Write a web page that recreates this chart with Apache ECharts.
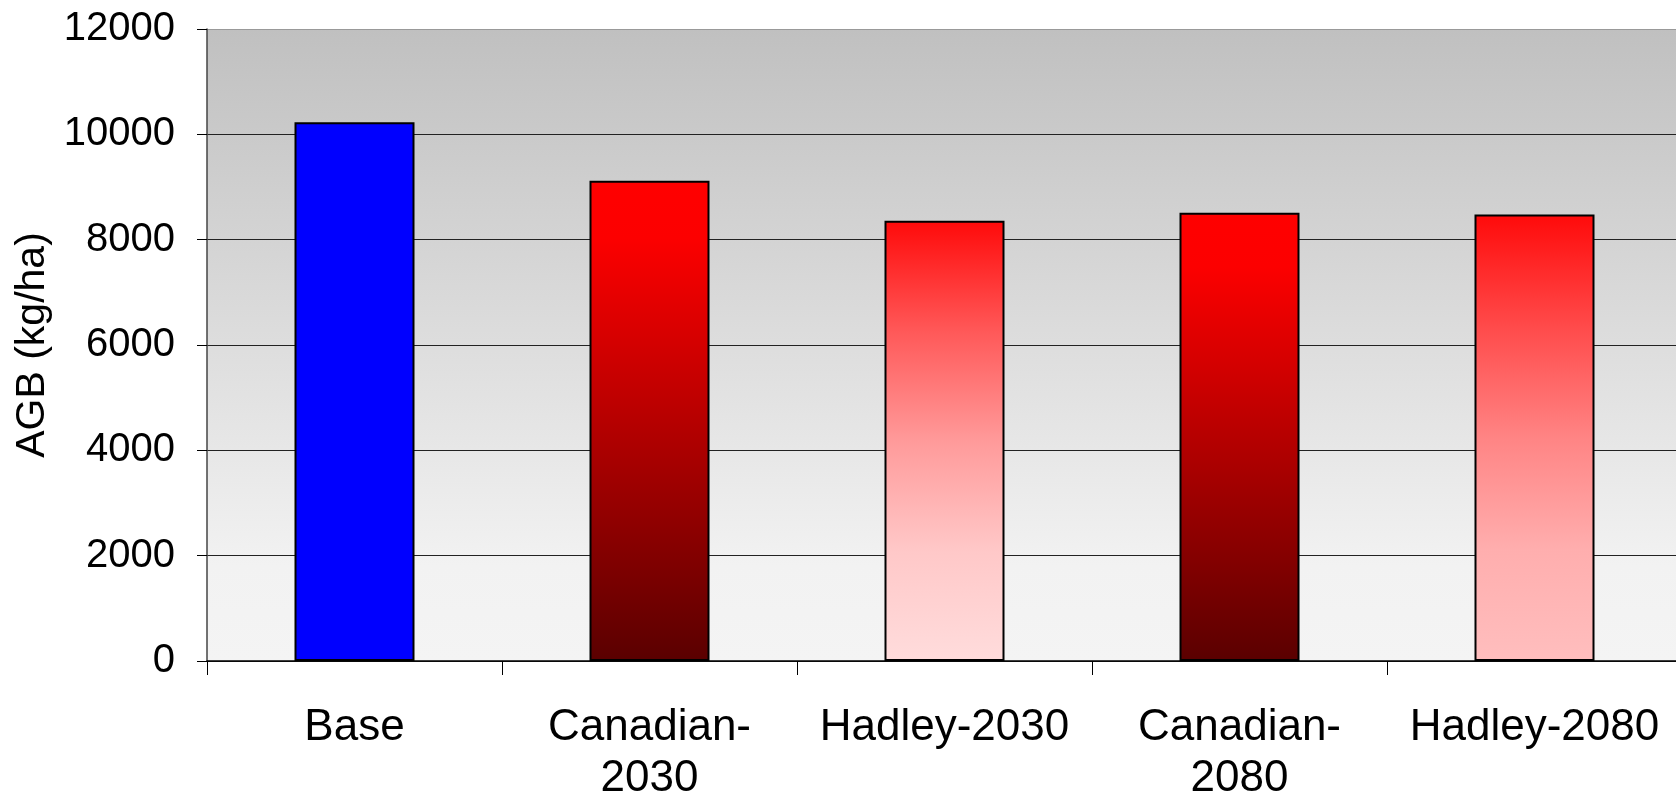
<!DOCTYPE html>
<html>
<head>
<meta charset="utf-8">
<script src="https://cdn.jsdelivr.net/npm/echarts@6/dist/echarts.min.js"></script>
<style>
  html, body { margin: 0; padding: 0; background: #fff; overflow: hidden; }
  #chart { width: 1682px; height: 800px; }
</style>
</head>
<body>
<div id="chart"></div>
<script>
// Above-ground biomass per climate scenario
const categories = ['Base', 'Canadian-\n2030', 'Hadley-2030', 'Canadian-\n2080', 'Hadley-2080'];
const agbValues = [10230, 9120, 8360, 8510, 8480];
const yTicks = { min: 0, max: 12000, interval: 2000 };

function vgrad(stops) {
  return new echarts.graphic.LinearGradient(0, 0, 0, 1,
    stops.map(([offset, color]) => ({ offset, color })));
}

// Fill for each bar, in category order
const barFills = [
  '#0000ff',
  vgrad([[0, '#ff0000'], [0.12, '#fc0000'], [1, '#5a0000']]),
  vgrad([[0, '#ff0a0a'], [0.25, '#ff5858'], [0.5, '#ff9a9a'], [0.75, '#ffc8c8'], [1, '#ffdcdc']]),
  vgrad([[0, '#ff0000'], [0.12, '#fc0000'], [1, '#5a0000']]),
  vgrad([[0, '#ff0a0a'], [0.25, '#ff4a4a'], [0.5, '#ff8484'], [0.75, '#ffaeae'], [1, '#ffbebe']])
];

const font = '"Liberation Sans", Arial, sans-serif';
const chart = echarts.init(document.getElementById('chart'), null, { renderer: 'canvas' });

chart.setOption({
  animation: false,
  backgroundColor: '#ffffff',
  grid: {
    left: 207, top: 29, bottom: 139, right: 0,
    containLabel: false,
    outerBoundsMode: 'none',
    show: true,
    borderWidth: 0,
    backgroundColor: vgrad([[0, '#c0c0c0'], [0.85, '#f2f2f2'], [1, '#f4f4f4']])
  },
  xAxis: {
    type: 'category',
    data: categories,
    axisLine: { lineStyle: { color: '#000', width: 1.5 } },
    axisTick: { show: true, length: 14, lineStyle: { color: '#000', width: 1 } },
    axisLabel: {
      color: '#000', fontFamily: font, fontSize: 44, lineHeight: 51,
      margin: 41, interval: 0
    },
    splitLine: { show: false }
  },
  yAxis: {
    type: 'value',
    min: yTicks.min, max: yTicks.max, interval: yTicks.interval,
    name: 'AGB (kg/ha)',
    nameLocation: 'middle',
    nameGap: 154,
    nameRotate: 90,
    nameTextStyle: { color: '#000', fontFamily: font, fontSize: 41 },
    axisLine: { show: true, lineStyle: { color: '#444', width: 1.5 } },
    axisTick: { show: true, length: 10, lineStyle: { color: '#000' } },
    axisLabel: {
      color: '#000', fontFamily: font, fontSize: 40, margin: 32,
      formatter: (v) => String(v)
    },
    splitLine: {
      show: true,
      lineStyle: {
        color: ['#222', '#222', '#222', '#222', '#222', '#222', '#999'],
        width: 1.2
      }
    }
  },
  series: [{
    type: 'bar',
    barWidth: 120,
    data: agbValues.map((v, i) => ({
      value: v,
      itemStyle: { color: barFills[i], borderColor: '#000', borderWidth: 2 }
    }))
  }]
});
</script>
</body>
</html>
